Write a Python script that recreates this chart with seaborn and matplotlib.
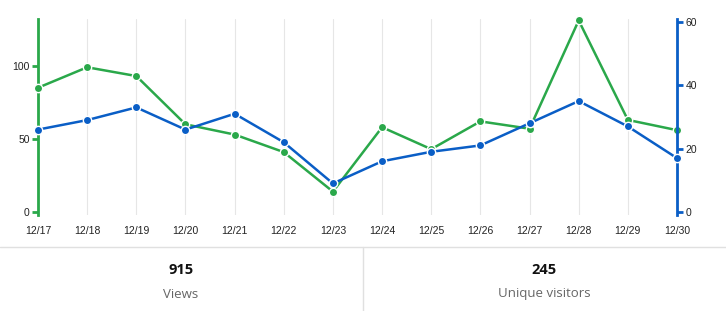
import matplotlib
matplotlib.use("Agg")
import matplotlib.pyplot as plt
import seaborn as sns
import pandas as pd
from matplotlib.lines import Line2D

dates = ["12/17", "12/18", "12/19", "12/20", "12/21", "12/22", "12/23",
         "12/24", "12/25", "12/26", "12/27", "12/28", "12/29", "12/30"]
views = [85, 99, 93, 60, 53, 41, 14, 58, 43, 62, 57, 131, 63, 56]
visitors = [26, 29, 33, 26, 31, 22, 9, 16, 19, 21, 28, 35, 27, 17]
views_ticks = [0, 50, 100]
visitors_ticks = [0, 20, 40, 60]
total_views = "915"
total_visitors = "245"
label_views = "Views"
label_visitors = "Unique visitors"

GREEN = "#2aa84a"
BLUE = "#0a5ec6"

sns.set_theme(style="white")
plt.rcParams["font.family"] = ["Open Sans", "DejaVu Sans"]
TICKFONT = ["Liberation Sans", "DejaVu Sans"]

df = pd.DataFrame({"x": range(len(dates)), "views": views, "visitors": visitors})

fig = plt.figure(figsize=(7.26, 3.11), dpi=100)
ax = fig.add_axes([38/726, 1-215/311, (677-38)/726, (215-19)/311])
ax2 = ax.twinx()

# gridlines
for i in range(len(dates)):
    ax.axvline(i, color="#e6e6e6", lw=0.8, zorder=0)

sns.lineplot(data=df, x="x", y="views", ax=ax, color=GREEN, lw=1.8,
             marker="o", markersize=6, markeredgecolor="white", markeredgewidth=1,
             zorder=3, clip_on=False)
sns.lineplot(data=df, x="x", y="visitors", ax=ax2, color=BLUE, lw=1.8,
             marker="o", markersize=6, markeredgecolor="white", markeredgewidth=1,
             zorder=3, clip_on=False)

ax.set_xlim(0, len(dates) - 1)
ax.set_ylim(-2, 132)
ax2.set_ylim(-0.95, 60.9)

ax.set_xticks(range(len(dates)))
ax.set_xticklabels(dates, fontsize=7.5, color="#222222", family=TICKFONT)
ax.tick_params(axis="x", length=0, pad=8)
ax.set_yticks(views_ticks)
ax.set_yticklabels([str(t) for t in views_ticks], fontsize=7.5, color="#222222", family=TICKFONT)
ax.tick_params(axis="y", length=4, width=2, color=GREEN, pad=2, left=True)
ax2.set_yticks(visitors_ticks)
ax2.set_yticklabels([str(t) for t in visitors_ticks], fontsize=7.5, color="#222222", family=TICKFONT)
ax2.tick_params(axis="y", length=4, width=2, color=BLUE, pad=2, right=True)

for a in (ax, ax2):
    a.set_xlabel("")
    a.set_ylabel("")
    a.grid(False)
    for s in ("top", "bottom"):
        a.spines[s].set_visible(False)
ax.spines["left"].set_color(GREEN)
ax.spines["left"].set_linewidth(2)
ax.spines["right"].set_visible(False)
ax2.spines["left"].set_visible(False)
ax2.spines["right"].set_color(BLUE)
ax2.spines["right"].set_linewidth(2)
ax2.set_zorder(ax.get_zorder() + 1)
ax2.patch.set_visible(False)

# bottom summary panel
fig.add_artist(Line2D([0, 1], [1-247/311, 1-247/311], color="#e0e0e0", lw=1))
fig.add_artist(Line2D([363/726, 363/726], [0, 1-247/311], color="#e0e0e0", lw=1))
fig.text(181/726, 1-270/311, total_views, ha="center", va="center",
         fontsize=10.5, fontweight="bold", color="#111111")
fig.text(181/726, 1-294/311, label_views, ha="center", va="center",
         fontsize=9.5, color="#666666")
fig.text(544/726, 1-270/311, total_visitors, ha="center", va="center",
         fontsize=10.5, fontweight="bold", color="#111111")
fig.text(544/726, 1-294/311, label_visitors, ha="center", va="center",
         fontsize=9.5, color="#666666")

fig.savefig("out.png", dpi=100)
